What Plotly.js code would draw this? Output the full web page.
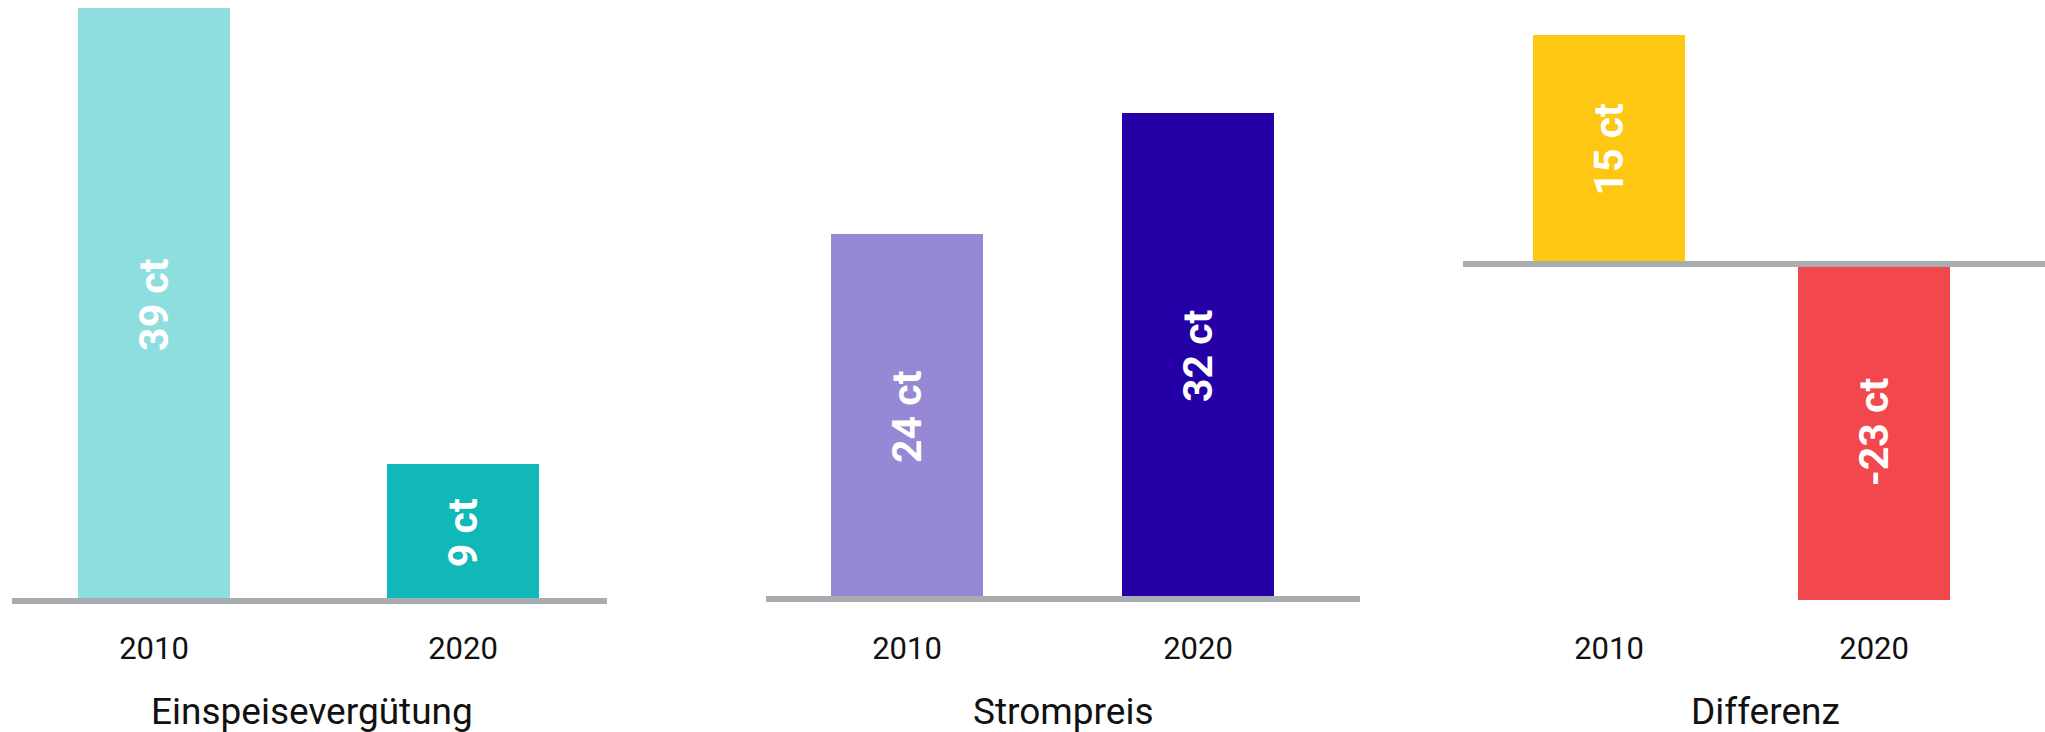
<!DOCTYPE html>
<html>
<head>
<meta charset="utf-8">
<script src="https://cdn.plot.ly/plotly-3.0.1.min.js"></script>
<style>
  html, body { margin: 0; padding: 0; background: #ffffff; }
  #chart { width: 2045px; height: 732px; }
</style>
</head>
<body>
<div id="chart"></div>
<script>
// ---- data ----
const categories = ['2010', '2020'];
const panelTitles = ['Einspeisevergütung', 'Strompreis', 'Differenz'];

const einspeiseValues = [39, 9];
const einspeiseLabels = ['39 ct', '9 ct'];

const strompreisValues = [24, 32];
const strompreisLabels = ['24 ct', '32 ct'];

const differenzValues = [15.1, -22.1];
const differenzLabels = ['15 ct', '-23 ct'];

// ---- styles ----
const W = 2045, H = 732, PLOT_H = 610;
const FONT = 'Roboto, "Open Sans", sans-serif';
const colors = [
  ['#8fdedf', '#10b9b7'],
  ['#9788d6', '#2400a6'],
  ['#fec713', '#f2474c']
];
const barWidths = [0.492, 0.522, 0.574];

function makeBar(values, labels, idx) {
  const sfx = idx === 0 ? '' : String(idx + 1);
  return {
    type: 'bar',
    x: categories,
    y: values,
    text: labels,
    textposition: 'inside',
    insidetextanchor: 'middle',
    textangle: -90,
    constraintext: 'none',
    textfont: { family: FONT, size: 41, color: '#ffffff', weight: 'bold' },
    marker: { color: colors[idx], line: { width: 0 } },
    width: barWidths[idx],
    xaxis: 'x' + sfx,
    yaxis: 'y' + sfx,
    hoverinfo: 'skip',
    showlegend: false
  };
}

const data = [
  makeBar(einspeiseValues, einspeiseLabels, 0),
  makeBar(strompreisValues, strompreisLabels, 1),
  makeBar(differenzValues, differenzLabels, 2)
];

const xDomains = [[12 / W, 607 / W], [766 / W, 1360 / W], [1463 / W, 1]];
const xRanges = [[-0.4595, 1.466], [-0.4845, 1.5567], [-0.551, 1.645]];
const yRanges = [[-0.592, 39.54], [-0.724, 39.41], [-22.76, 17.37]];
const titleCentersPx = [312, 1063, 1765];

const layout = {
  width: W,
  height: H,
  margin: { l: 0, r: 0, t: 0, b: H - PLOT_H, pad: 0 },
  paper_bgcolor: '#ffffff',
  plot_bgcolor: '#ffffff',
  font: { family: FONT, color: '#111111' },
  bargap: 0,
  shapes: [],
  annotations: []
};

for (let i = 0; i < 3; i++) {
  const sfx = i === 0 ? '' : String(i + 1);
  layout['xaxis' + sfx] = {
    domain: xDomains[i],
    range: xRanges[i],
    type: 'category',
    anchor: 'y' + sfx,
    showline: false,
    showgrid: false,
    zeroline: false,
    ticks: '',
    ticklabelstandoff: 17,
    tickfont: { family: FONT, size: 31, color: '#111111' },
    automargin: false,
    fixedrange: true
  };
  layout['yaxis' + sfx] = {
    domain: [0, 1],
    range: yRanges[i],
    anchor: 'x' + sfx,
    visible: false,
    showgrid: false,
    zeroline: false,
    fixedrange: true
  };
  layout.shapes.push({
    type: 'line',
    xref: 'x' + sfx + ' domain',
    yref: 'y' + sfx,
    x0: 0, x1: 1, y0: 0, y1: 0,
    line: { color: '#a7adb0', width: 6 },
    layer: 'above'
  });
  layout.annotations.push({
    text: panelTitles[i],
    xref: 'paper', yref: 'paper',
    x: titleCentersPx[i] / W,
    y: (PLOT_H - 711) / PLOT_H,
    xanchor: 'center', yanchor: 'middle',
    showarrow: false,
    font: { family: FONT, size: 37, color: '#111111' }
  });
}

Plotly.newPlot('chart', data, layout, { displayModeBar: false, staticPlot: true });
</script>
</body>
</html>
